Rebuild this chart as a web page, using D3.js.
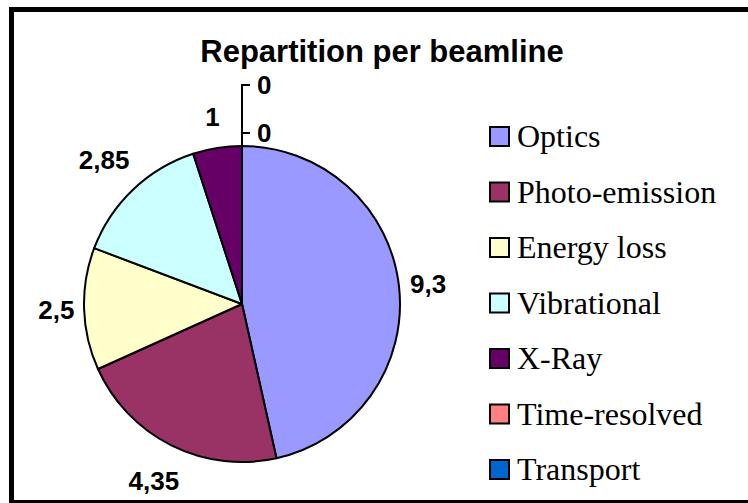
<!DOCTYPE html>
<html lang="en">
<head>
<meta charset="UTF-8">
<title>Repartition per beamline</title>
<script src="https://d3js.org/d3.v7.min.js"></script>
<style>
    body{ margin:0; background:#fff; }
    .title{
        font-family: Arial, "Liberation Sans", sans-serif;
        font-weight: bold;
        font-size: 31px;
        text-anchor: middle;
    }
    .label{
        font-family: Arial, "Liberation Sans", sans-serif;
        font-weight: bold;
        font-size: 26px;
        text-anchor: middle;
    }
    .legend text{
        font-family: "Times New Roman", "Liberation Serif", serif;
        font-size: 32px;
    }
</style>
</head>
<body>
<svg width="748" height="503"></svg>
<script>
    // data
    const beamlines = ["Optics", "Photo-emission", "Energy loss", "Vibrational", "X-Ray", "Time-resolved", "Transport"]
    const shares = [9.3, 4.35, 2.5, 2.85, 1, 0, 0]
    const colors = ["#9999FF", "#993366", "#FFFFCC", "#CCFFFF", "#660066", "#FF8080", "#0066CC"]

    const svg = d3.select("svg")
    const cx = 242, cy = 304, radius = 158

    // decimal comma, like the original
    const fmt = d3.formatLocale({decimal: ",", thousands: ".", grouping: [3], currency: ["", ""]}).format("~g")

    // frame (right edge runs off the picture)
    svg.append("rect")
        .attr("x", 11.5).attr("y", 9.5)
        .attr("width", 800).attr("height", 493)
        .attr("fill", "none").attr("stroke", "#000").attr("stroke-width", 5)

    svg.append("text")
        .attr("class", "title")
        .attr("x", 382).attr("y", 62)
        .text("Repartition per beamline")

    const pie = d3.pie().sort(null).value(d => d)
    const arcs = pie(shares)
    const arc = d3.arc().innerRadius(0).outerRadius(radius)

    const g = svg.append("g").attr("transform", `translate(${cx},${cy})`)

    g.selectAll("path")
        .data(arcs)
        .enter()
        .append("path")
        .attr("d", arc)
        .attr("fill", (d, i) => colors[i])
        .attr("stroke", "#000")
        .attr("stroke-width", 2)
        .attr("stroke-linejoin", "round")

    // labels outside the pie for non-zero slices, pushed out by the box size
    const capH = 26 * 0.716
    arcs.forEach((d, i) => {
        if (d.value === 0) return
        let t = g.append("text").attr("class", "label").text(fmt(d.value))
        let w = t.node().getComputedTextLength()
        let a = (d.startAngle + d.endAngle) / 2
        let s = Math.sin(a), c = Math.cos(a)
        let R = radius + 9 + 12 * Math.abs(c) + Math.abs(s) * w / 2 + Math.abs(c) * capH / 2
        t.attr("x", R * s).attr("y", -R * c + capH / 2)
    })

    // zero slices get stacked labels with leader lines above the top
    let zeros = arcs.filter(d => d.value === 0)
    let topY = -radius
    zeros.forEach((d, k) => {
        let ly = topY - 13 - k * 48
        g.append("path")
            .attr("d", `M0,${topY}V${ly}H8`)
            .attr("fill", "none")
            .attr("stroke", "#000")
            .attr("stroke-width", 2)
        g.append("text")
            .attr("class", "label")
            .style("text-anchor", "start")
            .attr("x", 15)
            .attr("y", ly + capH / 2)
            .text(fmt(d.value))
    })

    // legend
    const legend = svg.append("g").attr("class", "legend")
    const step = 55.5
    const item = legend.selectAll("g")
        .data(beamlines)
        .enter()
        .append("g")
        .attr("transform", (d, i) => `translate(490,${127 + i * step})`)

    item.append("rect")
        .attr("width", 19).attr("height", 19)
        .attr("fill", (d, i) => colors[i])
        .attr("stroke", "#000").attr("stroke-width", 2)

    item.append("text")
        .attr("x", 27).attr("y", 20)
        .text(d => d)
</script>
</body>
</html>
